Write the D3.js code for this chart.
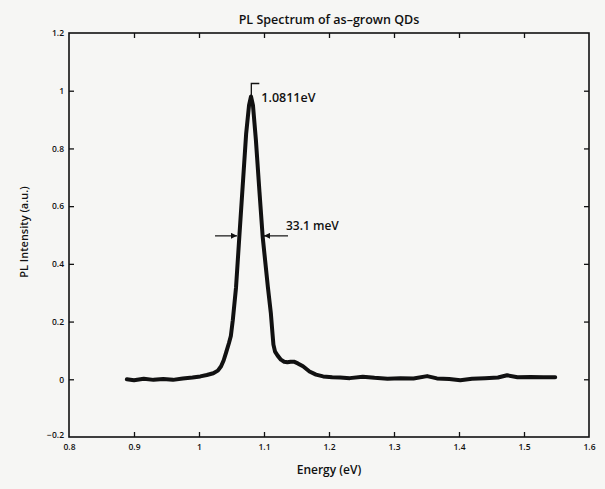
<!DOCTYPE html>
<html>
<head>
<meta charset="utf-8">
<script src="https://cdn.jsdelivr.net/npm/d3@7"></script>
<style>
  html, body { margin: 0; padding: 0; background: #f6f6f4; }
  svg { display: block; }
  text { font-family: "Open Sans", "Noto Sans", sans-serif; fill: #111; }
</style>
</head>
<body>
<svg id="chart" width="605" height="489"></svg>
<script>
// ---- data ----
const energy = [
  0.889, 0.900, 0.915, 0.930, 0.945, 0.960, 0.975, 0.990, 1.002, 1.012,
  1.022, 1.029, 1.034, 1.038, 1.042, 1.046, 1.049, 1.052, 1.057, 1.062,
  1.0675, 1.0725, 1.077, 1.080, 1.083, 1.0875, 1.093, 1.098, 1.106, 1.1105,
  1.113, 1.1145, 1.117, 1.121, 1.126, 1.131, 1.136, 1.141, 1.146, 1.152,
  1.160, 1.170, 1.180, 1.191, 1.205, 1.217, 1.232, 1.252, 1.270, 1.290,
  1.310, 1.330, 1.351, 1.366, 1.385, 1.402, 1.420, 1.440, 1.460, 1.474,
  1.490, 1.510, 1.530, 1.548
];
const intensity = [
  0.000, -0.003, 0.002, -0.002, 0.001, -0.002, 0.003, 0.006, 0.010, 0.015,
  0.021, 0.030, 0.045, 0.066, 0.095, 0.125, 0.150, 0.205, 0.319, 0.493,
  0.680, 0.850, 0.950, 0.980, 0.950, 0.830, 0.650, 0.493, 0.319, 0.230,
  0.160, 0.120, 0.096, 0.082, 0.068, 0.061, 0.059, 0.061, 0.061, 0.055,
  0.045, 0.027, 0.016, 0.010, 0.007, 0.006, 0.004, 0.009, 0.005, 0.002,
  0.004, 0.003, 0.011, 0.003, 0.001, -0.003, 0.002, 0.004, 0.006, 0.014,
  0.007, 0.008, 0.007, 0.007
];
const xTicks = [0.8, 0.9, 1.0, 1.1, 1.2, 1.3, 1.4, 1.5, 1.6];
const xTickLabels = ["0.8", "0.9", "1", "1.1", "1.2", "1.3", "1.4", "1.5", "1.6"];
const yTicks = [-0.2, 0, 0.2, 0.4, 0.6, 0.8, 1.0, 1.2];
const yTickLabels = ["\u22120.2", "0", "0.2", "0.4", "0.6", "0.8", "1", "1.2"];
const titleText = "PL Spectrum of as\u2013grown QDs";
const xLabel = "Energy (eV)";
const yLabel = "PL Intensity (a.u.)";
const peakEnergy = [1.0805];
const peakValue = [0.98];
const peakText = ["1.0811eV"];
const fwhmLevel = [0.497];
const fwhmEdges = [1.0585, 1.1];
const fwhmText = ["33.1 meV"];

// ---- layout ----
const W = 605, H = 489;
const m = { l: 69, r: 16, t: 33, b: 52 };
const svg = d3.select("#chart");
const x = d3.scaleLinear().domain([0.8, 1.6]).range([m.l, W - m.r]);
const y = d3.scaleLinear().domain([-0.2, 1.2]).range([H - m.b, m.t]);

// arrow marker
svg.append("defs").append("marker")
  .attr("id", "arr").attr("viewBox", "0 0 10 10")
  .attr("refX", 10).attr("refY", 5)
  .attr("markerWidth", 7).attr("markerHeight", 6)
  .attr("markerUnits", "userSpaceOnUse")
  .attr("orient", "auto")
  .append("path").attr("d", "M0,0 L10,5 L0,10 Z").attr("fill", "#111");

const tickFont = 8.5;
// axes (ticks inward)
const gx = svg.append("g").attr("transform", `translate(0,${H - m.b})`)
  .call(d3.axisBottom(x).tickValues(xTicks).tickSize(-5).tickPadding(7)
    .tickFormat((d, i) => xTickLabels[i]));
const gy = svg.append("g").attr("transform", `translate(${m.l},0)`)
  .call(d3.axisLeft(y).tickValues(yTicks).tickSize(-5).tickPadding(5)
    .tickFormat((d, i) => yTickLabels[i]));
const gt = svg.append("g").attr("transform", `translate(0,${m.t})`)
  .call(d3.axisTop(x).tickValues(xTicks).tickSize(-5).tickFormat(""));
const gr = svg.append("g").attr("transform", `translate(${W - m.r},0)`)
  .call(d3.axisRight(y).tickValues(yTicks).tickSize(-5).tickFormat(""));
[gx, gy, gt, gr].forEach(g => {
  g.selectAll(".domain").remove();
  g.selectAll(".tick line").attr("stroke", "#111").attr("stroke-width", 1.3);
  g.selectAll(".tick text").attr("font-size", tickFont).attr("font-weight", 600)
    .attr("fill", "#111").style("font-family", "'Open Sans', sans-serif");
});
gx.selectAll(".tick").filter(d => d === 0.8 || d === 1.6).select("line").remove();
gy.selectAll(".tick").filter(d => d === -0.2 || d === 1.2).select("line").remove();
gt.selectAll(".tick").filter(d => d === 0.8 || d === 1.6).select("line").remove();
gr.selectAll(".tick").filter(d => d === -0.2 || d === 1.2).select("line").remove();
gy.selectAll(".tick").filter(d => d === -0.2).select("text").attr("dy", "0.1em");

// frame
svg.append("rect")
  .attr("x", x(0.8)).attr("y", y(1.2))
  .attr("width", x(1.6) - x(0.8)).attr("height", y(-0.2) - y(1.2))
  .attr("fill", "none").attr("stroke", "#111").attr("stroke-width", 1.6);

// curve
const pts = energy.map((e, i) => [e, intensity[i]]);
svg.append("path").datum(pts)
  .attr("d", d3.line().x(d => x(d[0])).y(d => y(d[1])))
  .attr("fill", "none").attr("stroke", "#111").attr("stroke-width", 4)
  .attr("stroke-linejoin", "round").attr("stroke-linecap", "round");

// peak annotation bracket
const px = x(peakEnergy[0]), py = y(peakValue[0]);
svg.append("path")
  .attr("d", `M${px},${py} L${px},${py - 13} L${px + 8},${py - 13}`)
  .attr("fill", "none").attr("stroke", "#111").attr("stroke-width", 1.3);
svg.append("text").attr("x", px + 10).attr("y", py + 6)
  .attr("font-size", 12.5).attr("font-weight", 600).text(peakText[0]);

// FWHM arrows
const fy = y(fwhmLevel[0]);
svg.append("line").attr("x1", x(fwhmEdges[0]) - 22).attr("x2", x(fwhmEdges[0]))
  .attr("y1", fy).attr("y2", fy).attr("stroke", "#111").attr("stroke-width", 1.2)
  .attr("marker-end", "url(#arr)");
svg.append("line").attr("x1", x(fwhmEdges[1]) + 24).attr("x2", x(fwhmEdges[1]))
  .attr("y1", fy).attr("y2", fy).attr("stroke", "#111").attr("stroke-width", 1.2)
  .attr("marker-end", "url(#arr)");
svg.append("text").attr("x", x(fwhmEdges[1]) + 22).attr("y", fy - 6)
  .attr("font-size", 12).attr("font-weight", 600).text(fwhmText[0]);

// titles
svg.append("text").attr("x", (x(0.8) + x(1.6)) / 2).attr("y", 24)
  .attr("text-anchor", "middle").attr("font-size", 12.5).attr("font-weight", 600)
  .text(titleText);
svg.append("text").attr("x", (x(0.8) + x(1.6)) / 2).attr("y", 474)
  .attr("text-anchor", "middle").attr("font-size", 12).attr("font-weight", 600)
  .text(xLabel);
svg.append("text")
  .attr("transform", `translate(28,232) rotate(-90)`)
  .attr("text-anchor", "middle").attr("font-size", 11).attr("font-weight", 600)
  .text(yLabel);
</script>
</body>
</html>
